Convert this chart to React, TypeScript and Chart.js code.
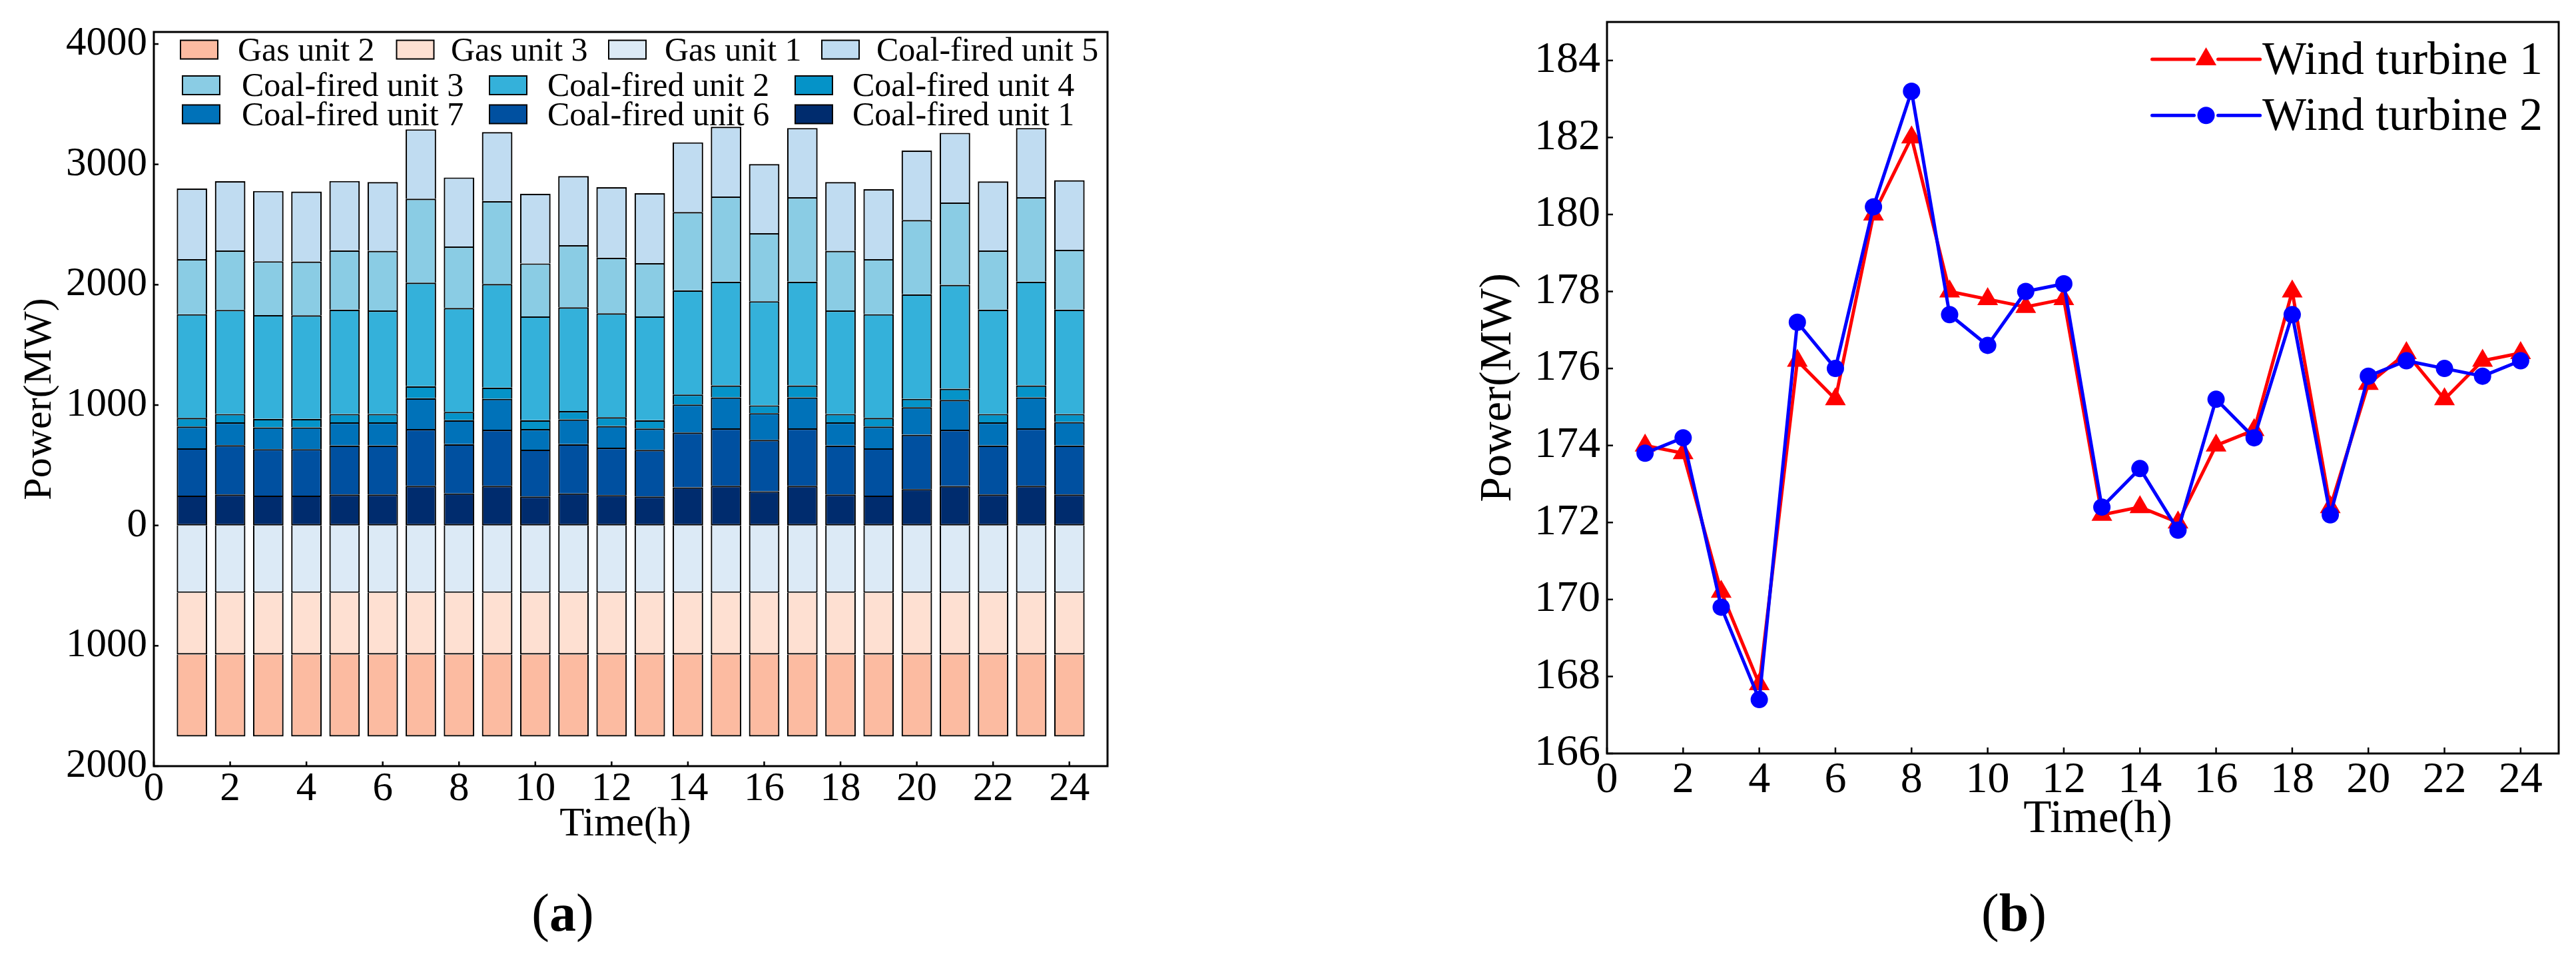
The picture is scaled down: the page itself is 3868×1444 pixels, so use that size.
import React, { useEffect, useRef } from 'react';
import { Chart, registerables } from 'chart.js';

Chart.register(...registerables);

const FONT = "'Liberation Serif', 'Times New Roman', Times, serif";
Chart.defaults.font.family = FONT;
Chart.defaults.color = '#000';

// ---------- data ----------
const hours = [1, 2, 3, 4, 5, 6, 7, 8, 9, 10, 11, 12, 13, 14, 15, 16, 17, 18, 19, 20, 21, 22, 23, 24];
const xTicks = [0, 2, 4, 6, 8, 10, 12, 14, 16, 18, 20, 22, 24];
const leftYTicks = [-2000, -1000, 0, 1000, 2000, 3000, 4000];
const rightYTicks = [166, 168, 170, 172, 174, 176, 178, 180, 182, 184];

const coalUnit1 = [248, 257, 248, 248, 257, 257, 329, 266, 329, 241, 266, 252, 241, 316, 329, 284, 329, 257, 248, 302, 327, 257, 329, 257];
const coalUnit6 = [393, 409, 386, 386, 407, 407, 472, 409, 466, 389, 409, 394, 387, 456, 477, 427, 477, 407, 393, 452, 468, 407, 477, 407];
const coalUnit7 = [181, 190, 181, 181, 192, 192, 256, 199, 257, 171, 206, 180, 177, 233, 258, 222, 258, 192, 181, 228, 248, 192, 258, 195];
const coalUnit4 = [72, 70, 70, 70, 70, 70, 99, 70, 93, 73, 69, 73, 69, 83, 99, 65, 99, 70, 72, 70, 93, 70, 99, 67];
const coalUnit2 = [861, 865, 863, 861, 867, 860, 861, 863, 861, 863, 862, 863, 863, 866, 863, 865, 863, 860, 861, 868, 863, 867, 863, 867];
const coalUnit3 = [458, 493, 447, 447, 493, 495, 698, 511, 689, 440, 517, 463, 442, 650, 707, 565, 701, 495, 458, 617, 684, 491, 701, 497];
const coalUnit5 = [586, 576, 584, 581, 576, 572, 576, 573, 573, 579, 574, 585, 581, 579, 579, 574, 575, 572, 581, 578, 579, 574, 575, 578];
const gasUnit1 = [-560, -560, -560, -560, -560, -560, -560, -560, -560, -560, -560, -560, -560, -560, -560, -560, -560, -560, -560, -560, -560, -560, -560, -560];
const gasUnit3 = [-513, -513, -513, -513, -513, -513, -513, -513, -513, -513, -513, -513, -513, -513, -513, -513, -513, -513, -513, -513, -513, -513, -513, -513];
const gasUnit2 = [-680, -680, -680, -680, -680, -680, -680, -680, -680, -680, -680, -680, -680, -680, -680, -680, -680, -680, -680, -680, -680, -680, -680, -680];

const windTurbine1 = [174.0, 173.8, 170.2, 167.8, 176.2, 175.2, 180.0, 182.0, 178.0, 177.8, 177.6, 177.8, 172.2, 172.4, 172.0, 174.0, 174.4, 178.0, 172.4, 175.6, 176.4, 175.2, 176.2, 176.4];
const windTurbine2 = [173.8, 174.2, 169.8, 167.4, 177.2, 176.0, 180.2, 183.2, 177.4, 176.6, 178.0, 178.2, 172.4, 173.4, 171.8, 175.2, 174.2, 177.4, 172.2, 175.8, 176.2, 176.0, 175.8, 176.2];

const leftLegendOrder = [
  'Gas unit 2', 'Gas unit 3', 'Gas unit 1', 'Coal-fired unit 5',
  'Coal-fired unit 3', 'Coal-fired unit 2', 'Coal-fired unit 4',
  'Coal-fired unit 7', 'Coal-fired unit 6', 'Coal-fired unit 1',
];

// ---------- styles / layout ----------
const COLORS: Record<string, string> = {
  'Gas unit 2': '#FCBBA1',
  'Gas unit 3': '#FEE0D2',
  'Gas unit 1': '#DCEAF6',
  'Coal-fired unit 5': '#C0DCF1',
  'Coal-fired unit 3': '#8ACCE4',
  'Coal-fired unit 2': '#34B1DA',
  'Coal-fired unit 4': '#0593C8',
  'Coal-fired unit 7': '#0072B9',
  'Coal-fired unit 6': '#0050A0',
  'Coal-fired unit 1': '#002C6E',
};

const LEFT_LEGEND = {
  font: 50,
  boxW: 56,
  boxH: 28,
  baselineOffset: 16,
  rows: [
    { cy: 74.5, boxes: [271, 595.5, 914, 1234], texts: [357, 677, 998, 1316] },
    { cy: 128, boxes: [274, 735, 1194], texts: [363, 822, 1280] },
    { cy: 171.5, boxes: [274, 735, 1194], texts: [363, 822, 1280] },
  ],
};

const RIGHT_LEGEND = {
  font: 70,
  lineStart: 1297.5,
  lineEnd: 1459.6,
  markerX: 1378.5,
  gap: 18,
  textX: 1463,
  rows: [89, 173.3],
  baselineOffset: 22,
};

type Pt = { x: number; y: number };
const pts = (ys: number[]): Pt[] => hours.map((h, i) => ({ x: h, y: ys[i] }));

const frameAndTicks = (tickLen: number, tickWidth: number, frameWidth: number) => ({
  id: 'frameAndTicks',
  afterDatasetsDraw(chart: any) {
    const { ctx, chartArea: a, scales } = chart;
    ctx.save();
    ctx.strokeStyle = '#000';
    ctx.lineWidth = tickWidth;
    scales.x.ticks.forEach((t: any) => {
      const px = scales.x.getPixelForValue(t.value);
      ctx.beginPath();
      ctx.moveTo(px, a.bottom);
      ctx.lineTo(px, a.bottom - tickLen);
      ctx.stroke();
    });
    scales.y.ticks.forEach((t: any) => {
      const py = scales.y.getPixelForValue(t.value);
      ctx.beginPath();
      ctx.moveTo(a.left, py);
      ctx.lineTo(a.left + tickLen, py);
      ctx.stroke();
    });
    ctx.lineWidth = frameWidth;
    ctx.strokeRect(a.left, a.top, a.right - a.left, a.bottom - a.top);
    ctx.restore();
  },
});

const xTitle = (text: string, x: number, y: number, size: number) => ({
  id: 'xTitle',
  afterDraw(chart: any) {
    const ctx = chart.ctx;
    ctx.save();
    ctx.font = `${size}px ${FONT}`;
    ctx.fillStyle = '#000';
    ctx.textAlign = 'center';
    ctx.textBaseline = 'middle';
    ctx.fillText(text, x, y);
    ctx.restore();
  },
});

const leftLegendPlugin = {
  id: 'leftLegend',
  afterDraw(chart: any) {
    const ctx = chart.ctx;
    const L = LEFT_LEGEND;
    ctx.save();
    ctx.font = `${L.font}px ${FONT}`;
    ctx.textBaseline = 'alphabetic';
    ctx.textAlign = 'left';
    let k = 0;
    L.rows.forEach((row) => {
      row.boxes.forEach((bx, j) => {
        const name = leftLegendOrder[k++];
        const ds = chart.data.datasets.find((d: any) => d.label === name);
        const top = row.cy - L.boxH / 2;
        ctx.fillStyle = ds ? ds.backgroundColor : '#fff';
        ctx.fillRect(bx, top, L.boxW, L.boxH);
        ctx.strokeStyle = '#000';
        ctx.lineWidth = 2;
        ctx.strokeRect(bx, top, L.boxW, L.boxH);
        ctx.fillStyle = '#000';
        ctx.fillText(name, row.texts[j], row.cy + L.baselineOffset);
      });
    });
    ctx.restore();
  },
};

function drawMarker(ctx: CanvasRenderingContext2D, style: string, x: number, y: number, r: number) {
  ctx.beginPath();
  if (style === 'triangle') {
    let rad = 0;
    ctx.moveTo(x + Math.sin(rad) * r, y - Math.cos(rad) * r);
    rad += (2 * Math.PI) / 3;
    ctx.lineTo(x + Math.sin(rad) * r, y - Math.cos(rad) * r);
    rad += (2 * Math.PI) / 3;
    ctx.lineTo(x + Math.sin(rad) * r, y - Math.cos(rad) * r);
    ctx.closePath();
  } else {
    ctx.arc(x, y, r, 0, Math.PI * 2);
  }
  ctx.fill();
}

const rightLegendPlugin = {
  id: 'rightLegend',
  afterDraw(chart: any) {
    const ctx = chart.ctx;
    const L = RIGHT_LEGEND;
    const items = ['Wind turbine 1', 'Wind turbine 2'];
    ctx.save();
    items.forEach((name, i) => {
      const ds = chart.data.datasets.find((d: any) => d.label === name);
      if (!ds) return;
      const y = L.rows[i];
      ctx.strokeStyle = ds.borderColor;
      ctx.fillStyle = ds.backgroundColor;
      ctx.lineWidth = ds.borderWidth;
      ctx.lineCap = 'round';
      ctx.beginPath();
      ctx.moveTo(L.lineStart, y);
      ctx.lineTo(L.markerX - L.gap, y);
      ctx.moveTo(L.markerX + L.gap, y);
      ctx.lineTo(L.lineEnd, y);
      ctx.stroke();
      drawMarker(ctx, ds.pointStyle, L.markerX, y, ds.pointRadius);
      ctx.fillStyle = '#000';
      ctx.font = `${L.font}px ${FONT}`;
      ctx.textAlign = 'left';
      ctx.textBaseline = 'alphabetic';
      ctx.fillText(name, L.textX, y + L.baselineOffset);
    });
    ctx.restore();
  },
};

function barDataset(label: string, values: number[], skipped: any) {
  return {
    label,
    data: pts(values),
    backgroundColor: COLORS[label],
    borderColor: '#000',
    borderWidth: 2.2,
    borderSkipped: skipped,
    barPercentage: 0.8,
    categoryPercentage: 1,
  };
}

function StackedChart() {
  const ref = useRef<HTMLCanvasElement>(null);
  useEffect(() => {
    const tickFont = { family: FONT, size: 61, lineHeight: 1 };
    const chart = new Chart(ref.current as HTMLCanvasElement, {
      type: 'bar',
      data: {
        datasets: [
          barDataset('Coal-fired unit 1', coalUnit1, false),
          barDataset('Coal-fired unit 6', coalUnit6, 'start'),
          barDataset('Coal-fired unit 7', coalUnit7, 'start'),
          barDataset('Coal-fired unit 4', coalUnit4, 'start'),
          barDataset('Coal-fired unit 2', coalUnit2, 'start'),
          barDataset('Coal-fired unit 3', coalUnit3, 'start'),
          barDataset('Coal-fired unit 5', coalUnit5, 'start'),
          barDataset('Gas unit 1', gasUnit1, 'start'),
          barDataset('Gas unit 3', gasUnit3, 'start'),
          barDataset('Gas unit 2', gasUnit2, 'start'),
        ] as any,
      },
      options: {
        animation: false,
        responsive: false,
        events: [],
        font: { family: FONT },
        layout: { padding: { left: 30, top: 48, right: 271, bottom: 164 } },
        plugins: { legend: { display: false }, tooltip: { enabled: false } },
        scales: {
          x: {
            type: 'linear',
            min: 0,
            max: 25,
            bounds: 'data',
            stacked: true,
            offset: false,
            grid: { display: false, drawTicks: false },
            border: { display: false },
            ticks: { font: { ...tickFont }, color: '#000', padding: 4, maxRotation: 0, autoSkip: false },
            afterBuildTicks: (s: any) => { s.ticks = xTicks.map((v) => ({ value: v })); },
            afterFit: (s: any) => { s.height = 130; s.paddingLeft = 0; s.paddingRight = 0; },
          },
          y: {
            type: 'linear',
            min: -2000,
            max: 4100,
            bounds: 'data',
            stacked: true,
            grid: { display: false, drawTicks: false },
            border: { display: false },
            ticks: {
              font: { ...tickFont },
              color: '#000',
              padding: 10,
              autoSkip: false,
              callback: (v: any) => String(Math.abs(Number(v))),
            },
            title: {
              display: true,
              text: 'Power(MW)',
              color: '#000',
              font: { family: FONT, size: 60, lineHeight: 1 },
              padding: 0,
            },
            afterBuildTicks: (s: any) => { s.ticks = leftYTicks.map((v) => ({ value: v })); },
            afterFit: (s: any) => { s.width = 201; s.paddingTop = 0; s.paddingBottom = 0; },
          },
        } as any,
      },
      plugins: [frameAndTicks(7, 2.5, 3), leftLegendPlugin, xTitle('Time(h)', 939, 1238, 61)],
    } as any);
    return () => chart.destroy();
  }, []);
  return <canvas ref={ref} width={1934} height={1444} style={{ position: 'absolute', left: 0, top: 0 }} />;
}

function WindChart() {
  const ref = useRef<HTMLCanvasElement>(null);
  useEffect(() => {
    const tickFont = { family: FONT, size: 66, lineHeight: 1 };
    const chart = new Chart(ref.current as HTMLCanvasElement, {
      type: 'line',
      data: {
        datasets: [
          {
            label: 'Wind turbine 1',
            data: pts(windTurbine1),
            borderColor: '#FF0000',
            backgroundColor: '#FF0000',
            borderWidth: 5,
            pointStyle: 'triangle',
            pointRadius: 18,
            pointBorderWidth: 0,
            borderCapStyle: 'round',
            borderJoinStyle: 'round',
            tension: 0,
            order: 2,
          },
          {
            label: 'Wind turbine 2',
            data: pts(windTurbine2),
            borderColor: '#0000FF',
            backgroundColor: '#0000FF',
            borderWidth: 5,
            pointStyle: 'circle',
            pointRadius: 13,
            pointBorderWidth: 0,
            borderCapStyle: 'round',
            borderJoinStyle: 'round',
            tension: 0,
            order: 1,
          },
        ] as any,
      },
      options: {
        animation: false,
        responsive: false,
        events: [],
        layout: { padding: { left: 282, top: 33, right: 26, bottom: 163 } },
        plugins: { legend: { display: false }, tooltip: { enabled: false } },
        scales: {
          x: {
            type: 'linear',
            min: 0,
            max: 25,
            bounds: 'data',
            offset: false,
            grid: { display: false, drawTicks: false },
            border: { display: false },
            ticks: { font: { ...tickFont }, color: '#000', padding: 8, maxRotation: 0, autoSkip: false },
            afterBuildTicks: (s: any) => { s.ticks = xTicks.map((v) => ({ value: v })); },
            afterFit: (s: any) => { s.height = 150; s.paddingLeft = 0; s.paddingRight = 0; },
          },
          y: {
            type: 'linear',
            min: 166,
            max: 185,
            bounds: 'data',
            grid: { display: false, drawTicks: false },
            border: { display: false },
            ticks: { font: { ...tickFont }, color: '#000', padding: 10, autoSkip: false },
            title: {
              display: true,
              text: 'Power(MW)',
              color: '#000',
              font: { family: FONT, size: 68, lineHeight: 1 },
              padding: 0,
            },
            afterBuildTicks: (s: any) => { s.ticks = rightYTicks.map((v) => ({ value: v })); },
            afterFit: (s: any) => { s.width = 197; s.paddingTop = 0; s.paddingBottom = 0; },
          },
        } as any,
      },
      plugins: [frameAndTicks(9, 2.5, 3), rightLegendPlugin, xTitle('Time(h)', 1216, 1231, 69)],
    } as any);
    return () => chart.destroy();
  }, []);
  return <canvas ref={ref} width={1934} height={1444} style={{ position: 'absolute', left: 1934, top: 0 }} />;
}

const panelLabel = (cx: number, cy: number): React.CSSProperties => ({
  position: 'absolute',
  left: cx,
  top: cy,
  transform: 'translate(-50%, -50%)',
  fontFamily: FONT,
  fontSize: 80,
  lineHeight: 1,
  color: '#000',
  whiteSpace: 'nowrap',
});

export default function App() {
  return (
    <div
      style={{
        position: 'absolute',
        left: 0,
        top: 0,
        width: 3868,
        height: 1444,
        background: '#fff',
        overflow: 'hidden',
      }}
    >
      <StackedChart />
      <WindChart />
      <div style={panelLabel(845, 1370)}>(<b>a</b>)</div>
      <div style={panelLabel(3024, 1370)}>(<b>b</b>)</div>
    </div>
  );
}
